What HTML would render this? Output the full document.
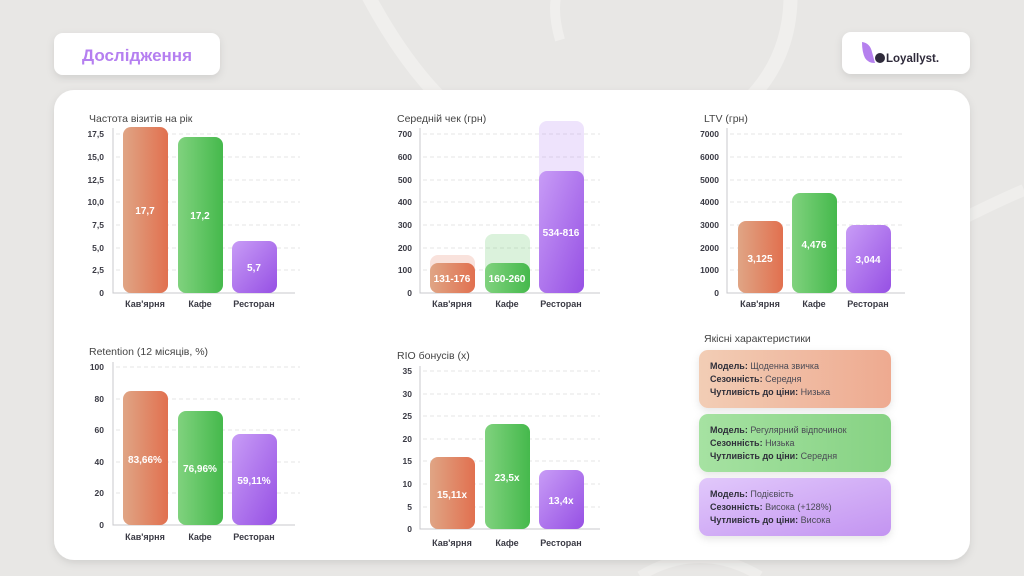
<!DOCTYPE html>
<html><head><meta charset="utf-8"><style>
html,body{margin:0;padding:0;background:#e8e7e5;}
svg{display:block;font-family:"Liberation Sans","Noto Sans CJK SC",sans-serif;}
.t{font-size:10.5px;fill:#444;}
.tk{font-size:8.5px;font-weight:bold;fill:#3a3a44;text-anchor:end;}
.cat{font-size:9px;font-weight:bold;fill:#3a3a44;text-anchor:middle;}
.v{font-size:10px;font-weight:bold;fill:#fff;text-anchor:middle;}
.g{stroke:#e6e6e6;stroke-dasharray:4 3;stroke-width:1;}
.ax{stroke:#c8c8cc;stroke-width:1;fill:none;}
.cb{font-size:9px;font-weight:bold;fill:#2f2f3a;}
.cn{font-size:9px;fill:#4a4a55;}
</style></head><body>
<svg width="1024" height="576" viewBox="0 0 1024 576" xmlns="http://www.w3.org/2000/svg">
<defs>
<linearGradient id="o" x1="0" y1="0" x2="1" y2="0"><stop offset="0" stop-color="#e0a585"/><stop offset="1" stop-color="#e1704f"/></linearGradient>
<linearGradient id="gr" x1="0" y1="0" x2="1" y2="0"><stop offset="0" stop-color="#80d27e"/><stop offset="1" stop-color="#45b94c"/></linearGradient>
<linearGradient id="p" x1="0" y1="0" x2="1" y2="1"><stop offset="0" stop-color="#c89cf6"/><stop offset="1" stop-color="#9650e4"/></linearGradient>
<linearGradient id="co" x1="0" y1="0" x2="1" y2="0"><stop offset="0" stop-color="#f2cdb5"/><stop offset="1" stop-color="#eeaa90"/></linearGradient>
<linearGradient id="cg" x1="0" y1="0" x2="1" y2="0"><stop offset="0" stop-color="#a6e2a2"/><stop offset="1" stop-color="#86d283"/></linearGradient>
<linearGradient id="cp" x1="0" y1="0" x2="1" y2="1"><stop offset="0" stop-color="#e1c8fb"/><stop offset="1" stop-color="#c394f1"/></linearGradient>
<filter id="sh" x="-10%" y="-10%" width="120%" height="130%"><feDropShadow dx="0" dy="3" stdDeviation="4" flood-color="#000" flood-opacity="0.10"/></filter>
</defs>
<rect width="1024" height="576" fill="#e8e7e5"/>
<path d="M360 -20 Q470 200 640 160 Q800 110 790 -20" fill="none" stroke="#f0efed" stroke-width="14"/>
<path d="M560 40 Q540 -30 600 -40" fill="none" stroke="#f0efed" stroke-width="10"/>
<path d="M960 220 Q1000 200 1024 190" fill="none" stroke="#efeeec" stroke-width="12"/>
<path d="M640 576 Q700 540 760 576" fill="none" stroke="#efeeec" stroke-width="10"/>
<rect x="54" y="33" width="166" height="42" rx="9" fill="#fff" filter="url(#sh)"/>
<text x="137" y="61" text-anchor="middle" font-size="17" font-weight="bold" fill="#b57ff0">Дослідження</text>
<rect x="842" y="32" width="128" height="42" rx="9" fill="#fff" filter="url(#sh)"/>
<path d="M862 42 Q870 43 872 52 L875 63 Q868 63 865 58 Q862 52 862 42Z" fill="#b580ee"/>
<circle cx="880" cy="58" r="5" fill="#2e2a3a"/>
<text x="886" y="62" font-size="11.5" font-weight="bold" fill="#2e2a3a">Loyallyst.</text>
<rect x="54" y="90" width="916" height="470" rx="20" fill="#fff" filter="url(#sh)"/>

<!-- Chart 1 -->
<text class="t" x="89" y="122">Частота візитів на  рік</text>
<g>
<line class="g" x1="116" x2="300" y1="134" y2="134"/><line class="g" x1="116" x2="300" y1="157" y2="157"/><line class="g" x1="116" x2="300" y1="180" y2="180"/><line class="g" x1="116" x2="300" y1="202" y2="202"/><line class="g" x1="116" x2="300" y1="225" y2="225"/><line class="g" x1="116" x2="300" y1="248" y2="248"/><line class="g" x1="116" x2="300" y1="270" y2="270"/>
<path class="ax" d="M113 128 V293 H295"/>
<text class="tk" x="104" y="137">17,5</text><text class="tk" x="104" y="160">15,0</text><text class="tk" x="104" y="183">12,5</text><text class="tk" x="104" y="205">10,0</text><text class="tk" x="104" y="228">7,5</text><text class="tk" x="104" y="251">5,0</text><text class="tk" x="104" y="273">2,5</text><text class="tk" x="104" y="296">0</text>
<rect x="123" y="127" width="45" height="166" rx="8" fill="url(#o)"/>
<rect x="178" y="137" width="45" height="156" rx="8" fill="url(#gr)"/>
<rect x="232" y="241" width="45" height="52" rx="8" fill="url(#p)"/>
<text class="v" x="145" y="214">17,7</text><text class="v" x="200" y="219">17,2</text><text class="v" x="254" y="271">5,7</text>
<text class="cat" x="145" y="307">Кав'ярня</text><text class="cat" x="200" y="307">Кафе</text><text class="cat" x="254" y="307">Ресторан</text>
</g>

<!-- Chart 2 -->
<text class="t" x="397" y="122">Середній чек (грн)</text>
<g>
<line class="g" x1="423" x2="600" y1="134" y2="134"/><line class="g" x1="423" x2="600" y1="157" y2="157"/><line class="g" x1="423" x2="600" y1="180" y2="180"/><line class="g" x1="423" x2="600" y1="202" y2="202"/><line class="g" x1="423" x2="600" y1="225" y2="225"/><line class="g" x1="423" x2="600" y1="248" y2="248"/><line class="g" x1="423" x2="600" y1="270" y2="270"/>
<path class="ax" d="M420 128 V293 H600"/>
<text class="tk" x="412" y="137">700</text><text class="tk" x="412" y="160">600</text><text class="tk" x="412" y="183">500</text><text class="tk" x="412" y="205">400</text><text class="tk" x="412" y="228">300</text><text class="tk" x="412" y="251">200</text><text class="tk" x="412" y="273">100</text><text class="tk" x="412" y="296">0</text>
<rect x="430" y="255" width="45" height="38" rx="8" fill="#e1704f" opacity="0.2"/>
<rect x="485" y="234" width="45" height="59" rx="8" fill="#5cc460" opacity="0.22"/>
<rect x="539" y="121" width="45" height="172" rx="8" fill="#b37ef0" opacity="0.22"/>
<rect x="430" y="263" width="45" height="30" rx="8" fill="url(#o)"/>
<rect x="485" y="263" width="45" height="30" rx="8" fill="url(#gr)"/>
<rect x="539" y="171" width="45" height="122" rx="8" fill="url(#p)"/>
<text class="v" x="452" y="282">131-176</text><text class="v" x="507" y="282">160-260</text><text class="v" x="561" y="236">534-816</text>
<text class="cat" x="452" y="307">Кав'ярня</text><text class="cat" x="507" y="307">Кафе</text><text class="cat" x="561" y="307">Ресторан</text>
</g>

<!-- Chart 3 -->
<text class="t" x="704" y="122">LTV (грн)</text>
<g>
<line class="g" x1="730" x2="905" y1="134" y2="134"/><line class="g" x1="730" x2="905" y1="157" y2="157"/><line class="g" x1="730" x2="905" y1="180" y2="180"/><line class="g" x1="730" x2="905" y1="202" y2="202"/><line class="g" x1="730" x2="905" y1="225" y2="225"/><line class="g" x1="730" x2="905" y1="248" y2="248"/><line class="g" x1="730" x2="905" y1="270" y2="270"/>
<path class="ax" d="M727 128 V293 H905"/>
<text class="tk" x="719" y="137">7000</text><text class="tk" x="719" y="160">6000</text><text class="tk" x="719" y="183">5000</text><text class="tk" x="719" y="205">4000</text><text class="tk" x="719" y="228">3000</text><text class="tk" x="719" y="251">2000</text><text class="tk" x="719" y="273">1000</text><text class="tk" x="719" y="296">0</text>
<rect x="738" y="221" width="45" height="72" rx="8" fill="url(#o)"/>
<rect x="792" y="193" width="45" height="100" rx="8" fill="url(#gr)"/>
<rect x="846" y="225" width="45" height="68" rx="8" fill="url(#p)"/>
<text class="v" x="760" y="262">3,125</text><text class="v" x="814" y="248">4,476</text><text class="v" x="868" y="263">3,044</text>
<text class="cat" x="760" y="307">Кав'ярня</text><text class="cat" x="814" y="307">Кафе</text><text class="cat" x="868" y="307">Ресторан</text>
</g>

<!-- Chart 4 -->
<text class="t" x="89" y="355">Retention (12 місяців, %)</text>
<g>
<line class="g" x1="116" x2="300" y1="367" y2="367"/><line class="g" x1="116" x2="300" y1="399" y2="399"/><line class="g" x1="116" x2="300" y1="430" y2="430"/><line class="g" x1="116" x2="300" y1="462" y2="462"/><line class="g" x1="116" x2="300" y1="493" y2="493"/>
<path class="ax" d="M113 362 V525 H295"/>
<text class="tk" x="104" y="370">100</text><text class="tk" x="104" y="402">80</text><text class="tk" x="104" y="433">60</text><text class="tk" x="104" y="465">40</text><text class="tk" x="104" y="496">20</text><text class="tk" x="104" y="528">0</text>
<rect x="123" y="391" width="45" height="134" rx="8" fill="url(#o)"/>
<rect x="178" y="411" width="45" height="114" rx="8" fill="url(#gr)"/>
<rect x="232" y="434" width="45" height="91" rx="8" fill="url(#p)"/>
<text class="v" x="145" y="463">83,66%</text><text class="v" x="200" y="472">76,96%</text><text class="v" x="254" y="484">59,11%</text>
<text class="cat" x="145" y="540">Кав'ярня</text><text class="cat" x="200" y="540">Кафе</text><text class="cat" x="254" y="540">Ресторан</text>
</g>

<!-- Chart 5 -->
<text class="t" x="397" y="359">RIO бонусів (x)</text>
<g>
<line class="g" x1="423" x2="600" y1="371" y2="371"/><line class="g" x1="423" x2="600" y1="394" y2="394"/><line class="g" x1="423" x2="600" y1="416" y2="416"/><line class="g" x1="423" x2="600" y1="439" y2="439"/><line class="g" x1="423" x2="600" y1="461" y2="461"/><line class="g" x1="423" x2="600" y1="484" y2="484"/><line class="g" x1="423" x2="600" y1="507" y2="507"/>
<path class="ax" d="M420 366 V529 H600"/>
<text class="tk" x="412" y="374">35</text><text class="tk" x="412" y="397">30</text><text class="tk" x="412" y="419">25</text><text class="tk" x="412" y="442">20</text><text class="tk" x="412" y="464">15</text><text class="tk" x="412" y="487">10</text><text class="tk" x="412" y="510">5</text><text class="tk" x="412" y="532">0</text>
<rect x="430" y="457" width="45" height="72" rx="8" fill="url(#o)"/>
<rect x="485" y="424" width="45" height="105" rx="8" fill="url(#gr)"/>
<rect x="539" y="470" width="45" height="59" rx="8" fill="url(#p)"/>
<text class="v" x="452" y="498">15,11x</text><text class="v" x="507" y="481">23,5x</text><text class="v" x="561" y="504">13,4x</text>
<text class="cat" x="452" y="546">Кав'ярня</text><text class="cat" x="507" y="546">Кафе</text><text class="cat" x="561" y="546">Ресторан</text>
</g>

<!-- Cards -->
<text class="t" x="704" y="342">Якісні характеристики</text>
<rect x="699" y="350" width="192" height="58" rx="9" fill="url(#co)" filter="url(#sh)"/>
<text x="710" y="369"><tspan class="cb">Модель:</tspan><tspan class="cn"> Щоденна звичка</tspan></text>
<text x="710" y="382"><tspan class="cb">Сезонність:</tspan><tspan class="cn">  Середня</tspan></text>
<text x="710" y="395"><tspan class="cb">Чутливість до ціни:</tspan><tspan class="cn">  Низька</tspan></text>
<rect x="699" y="414" width="192" height="58" rx="9" fill="url(#cg)" filter="url(#sh)"/>
<text x="710" y="433"><tspan class="cb">Модель:</tspan><tspan class="cn"> Регулярний відпочинок</tspan></text>
<text x="710" y="446"><tspan class="cb">Сезонність:</tspan><tspan class="cn">  Низька</tspan></text>
<text x="710" y="459"><tspan class="cb">Чутливість до ціни:</tspan><tspan class="cn">  Середня</tspan></text>
<rect x="699" y="478" width="192" height="58" rx="9" fill="url(#cp)" filter="url(#sh)"/>
<text x="710" y="497"><tspan class="cb">Модель:</tspan><tspan class="cn">  Подієвість</tspan></text>
<text x="710" y="510"><tspan class="cb">Сезонність:</tspan><tspan class="cn">  Висока (+128%)</tspan></text>
<text x="710" y="523"><tspan class="cb">Чутливість до ціни:</tspan><tspan class="cn">  Висока</tspan></text>
</svg>
</body></html>
